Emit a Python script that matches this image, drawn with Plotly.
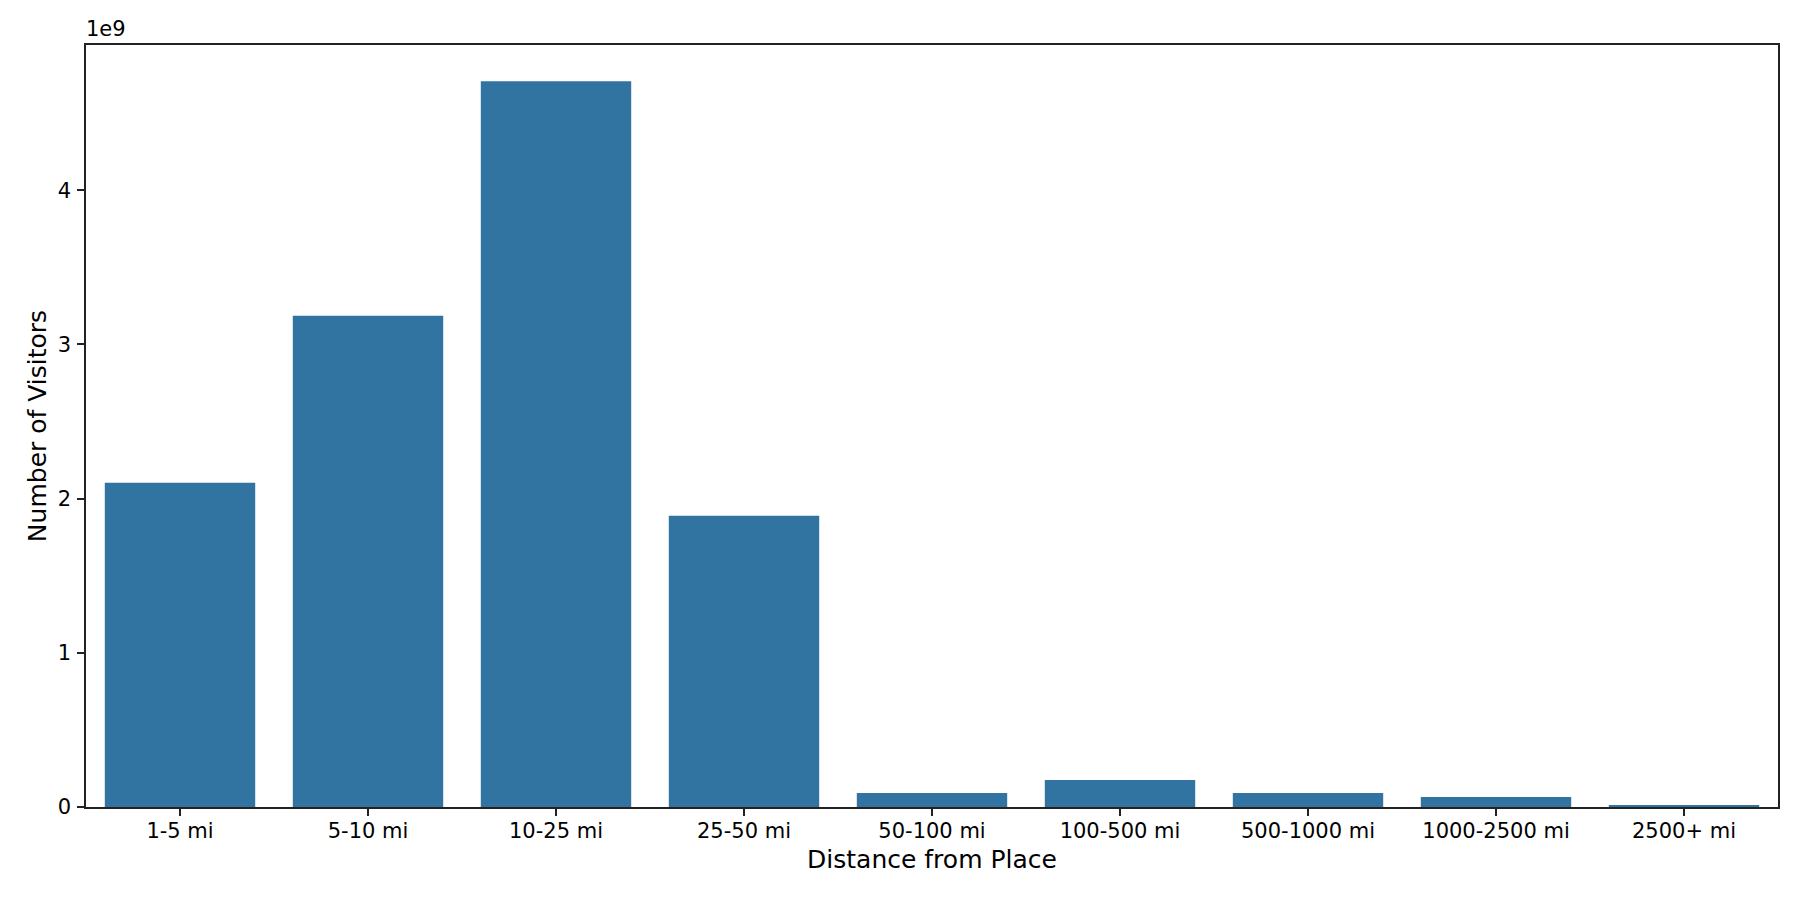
import plotly.graph_objects as go

categories = ["1-5 mi", "5-10 mi", "10-25 mi", "25-50 mi", "50-100 mi",
              "100-500 mi", "500-1000 mi", "1000-2500 mi", "2500+ mi"]
visitors = [2.102e9, 3.186e9, 4.706e9, 1.888e9, 0.091e9,
            0.175e9, 0.091e9, 0.065e9, 0.013e9]
y_tick_vals = [0, 1e9, 2e9, 3e9, 4e9]
y_tick_text = ["0", "1", "2", "3", "4"]

BAR = "rgb(50,116,161)"
FONT = "DejaVu Sans"

fig = go.Figure(go.Bar(x=categories, y=visitors, marker_color=BAR,
                       marker_line_width=0, width=0.8))

ymax = max(visitors) * 1.05

# page body has an 8px default margin; compensate so the plot area lands where the reference has it
fig.update_layout(
    width=1792, height=892,
    paper_bgcolor="white", plot_bgcolor="white",
    margin=dict(l=78, r=22, t=37, b=93, autoexpand=False),
    font=dict(family=FONT, size=21, color="black"),
    showlegend=False,
)
fig.update_xaxes(
    range=[-0.5, len(categories) - 0.5],
    showline=True, linecolor="#222", linewidth=1.6, mirror=True,
    ticks="outside", ticklen=7, tickwidth=1.6, tickcolor="#222",
    showgrid=False, zeroline=False,
    ticklabelstandoff=-3,
    tickfont=dict(family=FONT, size=21, color="black"),
    title=dict(text="Distance from Place", font=dict(family=FONT, size=25, color="black"), standoff=8),
)
fig.update_yaxes(
    range=[0, ymax],
    tickvals=y_tick_vals, ticktext=y_tick_text,
    showline=True, linecolor="#222", linewidth=1.6, mirror=True,
    ticks="outside", ticklen=7, tickwidth=1.6, tickcolor="#222",
    showgrid=False, zeroline=False,
    ticklabelstandoff=2,
    tickfont=dict(family=FONT, size=21, color="black"),
    title=dict(text="Number of Visitors", font=dict(family=FONT, size=25, color="black"), standoff=4),
)
fig.add_annotation(text="1e9", xref="paper", yref="paper", x=0, y=1,
                   xanchor="left", yanchor="bottom", showarrow=False,
                   font=dict(family=FONT, size=21, color="black"), xshift=-2, yshift=2)

fig.write_html("out.html")
